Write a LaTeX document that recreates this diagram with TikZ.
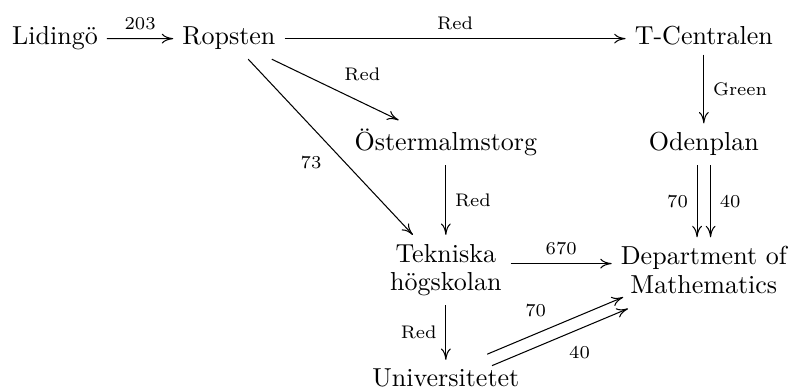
\documentclass[tikz,border=0pt]{standalone}
\usepackage{fontspec}
\usetikzlibrary{arrows.meta}
\begin{document}
\begin{tikzpicture}[
  >={Computer Modern Rightarrow[length=4.4pt, width=3.8pt]},
  stn/.style={anchor=base},
  stntwo/.style={align=center, font=\fontsize{10}{11}\selectfont},
  lbl/.style={font=\scriptsize, midway, auto}
]
\useasboundingbox (0,0) rectangle (10.757,-5.284);
% stations
\node[stn] (lid) at (0.743,-0.608) {Lidingö};
\node[stn] (rop) at (3.094,-0.608) {Ropsten};
\node[stn] (tcen) at (9.511,-0.608) {T-Centralen};
\node[stn] (ost) at (6.025,-2.040) {Östermalmstorg};
\node[stn] (oden) at (9.511,-2.040) {Odenplan};
\node[stntwo] (tek) at (6.025,-3.65) {Tekniska\\högskolan};
\node[stntwo] (dep) at (9.511,-3.65) {Department of\\Mathematics};
\node[stn] (univ) at (6.025,-5.228) {Universitetet};
% lines
\draw[->] (lid) -- (rop) node[lbl] {203};
\draw[->] (rop.east) -- (rop.east -| tcen.west) node[lbl] {Red};
\draw[->] (rop) -- (ost) node[lbl] {Red};
\draw[->] (rop) -- (tek) node[lbl, swap] {73};
\draw[->] (ost) -- (tek) node[lbl] {Red};
\draw[->] (tcen) -- (oden) node[lbl] {Green};
\draw[->, transform canvas={xshift=-2.6pt}] (oden) -- (dep) node[lbl, swap] {70};
\draw[->, transform canvas={xshift=2.6pt}] (oden) -- (dep) node[lbl] {40};
\draw[->] ([yshift=2.5pt]tek.east) -- ([yshift=2.5pt]dep.west) node[lbl] {670};
\draw[->] (tek) -- (univ) node[lbl, swap] {Red};
\draw[->, transform canvas={shift={(-0.93pt,2.2pt)}}] (univ) -- (dep) node[lbl] {70};
\draw[->, transform canvas={shift={(0.93pt,-2.2pt)}}] (univ) -- (dep) node[lbl, swap] {40};
\end{tikzpicture}
\end{document}
